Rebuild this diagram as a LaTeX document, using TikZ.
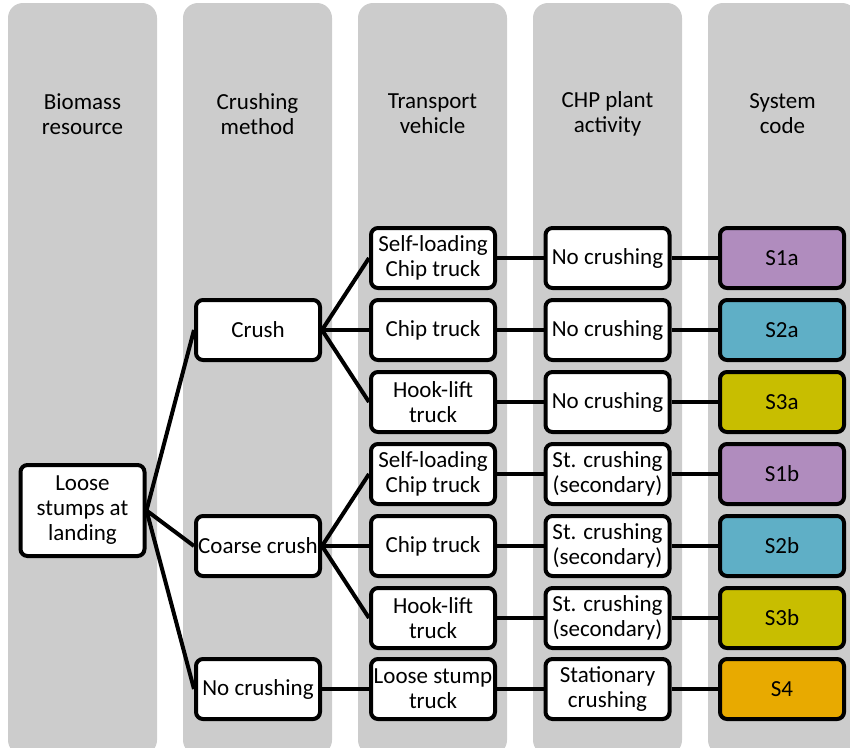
\documentclass[tikz,border=0pt]{standalone}
\usepackage{fontspec}
\setmainfont{Carlito}
\begin{document}
\begin{tikzpicture}[x=1pt,y=-1pt,
  col/.style={fill=gray!40,draw=none,rounded corners=15pt},
  hdr/.style={align=center,font=\fontsize{23}{25}\selectfont},
  box/.style={draw=black,line width=4pt,rounded corners=7pt,fill=white,minimum width=124pt,minimum height=60pt,inner xsep=0pt,inner ysep=0pt,align=center,font=\fontsize{23}{25}\selectfont},
  link/.style={line width=4pt,draw=black}]
\definecolor{cpurple}{RGB}{176,140,190}
\definecolor{cblue}{RGB}{95,175,198}
\definecolor{cyellow}{RGB}{200,190,0}
\definecolor{corange}{RGB}{232,170,0}
\useasboundingbox (0,0) rectangle (850,747);
\foreach \x in {8,183,358,533,708}{
  \path[col] (\x,3) rectangle (\x+149,755);
}
\node[hdr] (h1) at (82.5,114) {Biomass\\resource};
\node[hdr] (h2) at (257.5,114) {Crushing\\method};
\node[hdr] (h3) at (432.5,114) {Transport\\vehicle};
\node[hdr] (h4) at (607.5,114) {CHP plant\\activity};
\node[hdr] (h5) at (782.5,114) {System\\code};

\node[box,minimum height=91pt] (ls) at (82.5,510.5) {Loose\\stumps at\\landing};

\node[box] (cr) at (258,330) {Crush};
\node[box] (cc) at (258,546) {Coarse crush};
\node[box] (nc) at (258,689) {No crushing};

\node[box] (t1) at (433,258) {Self-loading\\Chip truck};
\node[box] (t2) at (433,330) {Chip truck};
\node[box] (t3) at (433,402) {Hook-lift\\truck};
\node[box] (t4) at (433,474) {Self-loading\\Chip truck};
\node[box] (t5) at (433,546) {Chip truck};
\node[box] (t6) at (433,618) {Hook-lift\\truck};
\node[box] (t7) at (433,689) {Loose stump\\truck};

\node[box] (p1) at (607.5,258) {No crushing};
\node[box] (p2) at (607.5,330) {No crushing};
\node[box] (p3) at (607.5,402) {No crushing};
\node[box] (p4) at (607.5,474) {St. crushing\\(secondary)};
\node[box] (p5) at (607.5,546) {St. crushing\\(secondary)};
\node[box] (p6) at (607.5,618) {St. crushing\\(secondary)};
\node[box] (p7) at (607.5,689) {Stationary\\crushing};

\node[box,fill=cpurple] (s1) at (782,258) {S1a};
\node[box,fill=cblue] (s2) at (782,330) {S2a};
\node[box,fill=cyellow] (s3) at (782,402) {S3a};
\node[box,fill=cpurple] (s4) at (782,474) {S1b};
\node[box,fill=cblue] (s5) at (782,546) {S2b};
\node[box,fill=cyellow] (s6) at (782,618) {S3b};
\node[box,fill=corange] (s7) at (782,689) {S4};

\foreach \a/\b in {ls/cr,ls/cc,ls/nc,cr/t1,cr/t2,cr/t3,cc/t4,cc/t5,cc/t6,nc/t7}{
  \draw[link] (\a.east) -- (\b.west);
}
\foreach \i in {1,...,7}{
  \draw[link] (t\i.east) -- (p\i.west);
  \draw[link] (p\i.east) -- (s\i.west);
}
\end{tikzpicture}
\end{document}
